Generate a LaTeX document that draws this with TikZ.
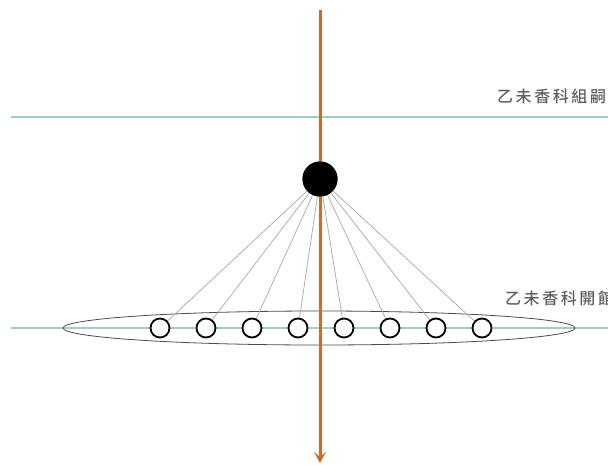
\documentclass[tikz,border=0pt]{standalone}
\usepackage{fontspec}
\newfontfamily\cjkfont[LetterSpace=16]{Noto Sans CJK TC Medium}
\usetikzlibrary{positioning,arrows.meta,shapes.geometric}
\definecolor{flCyan}{RGB}{160,205,200}
\definecolor{flOrange}{RGB}{200,110,40}
\definecolor{flGray}{RGB}{175,175,175}
\definecolor{flText}{RGB}{95,95,95}

\begin{document}
\begin{tikzpicture}[x=1pt,y=-1pt,
  pin/.style={circle, draw=black, line width=1.8pt, fill=white, minimum size=19pt, inner sep=0pt},
  hub/.style={circle, fill=black, minimum size=35pt, inner sep=0pt},
  level/.style={font=\cjkfont\fontsize{16}{16}\selectfont, text=flText, anchor=west, inner sep=0pt}]
  \useasboundingbox (0,0) rectangle (608,464);

  % Levels
  \coordinate (topL) at (11,117);
  \coordinate (topR) at (608,117);
  \coordinate (lowL) at (11,328);
  \coordinate (lowR) at (608,328);
  \draw[flCyan, line width=2pt] (topL) -- (topR);
  \draw[flCyan, line width=2pt] (lowL) -- (lowR);
  \node[level] (upper) at (497,96) {乙未香科組嗣};
  \node[level] (lower) at (505,298) {乙未香科開館};

  % Ring of pins
  \node[draw=black!70, line width=0.8pt, ellipse, minimum width=512pt, minimum height=34pt, inner sep=0pt] (ring) at (319,328) {};
  \node[hub] (hub) at (320,179) {};
  \foreach \i in {1,...,8}
    \coordinate (c\i) at ({160+46*(\i-1)},328);
  \foreach \i in {1,...,8}
    \draw[flGray, line width=0.8pt] (hub.center) -- (c\i);

  % Axis
  \coordinate (axTop) at (320,10);
  \coordinate (axBot) at (320,463);
  \draw[-{Stealth[length=11pt,width=12pt,inset=5pt]}, flOrange, line width=3pt] (axTop) -- (axBot);

  \node[hub] at (hub) {};
  \foreach \i in {1,...,8}
    \node[pin] (p\i) at (c\i) {};
\end{tikzpicture}
\end{document}
